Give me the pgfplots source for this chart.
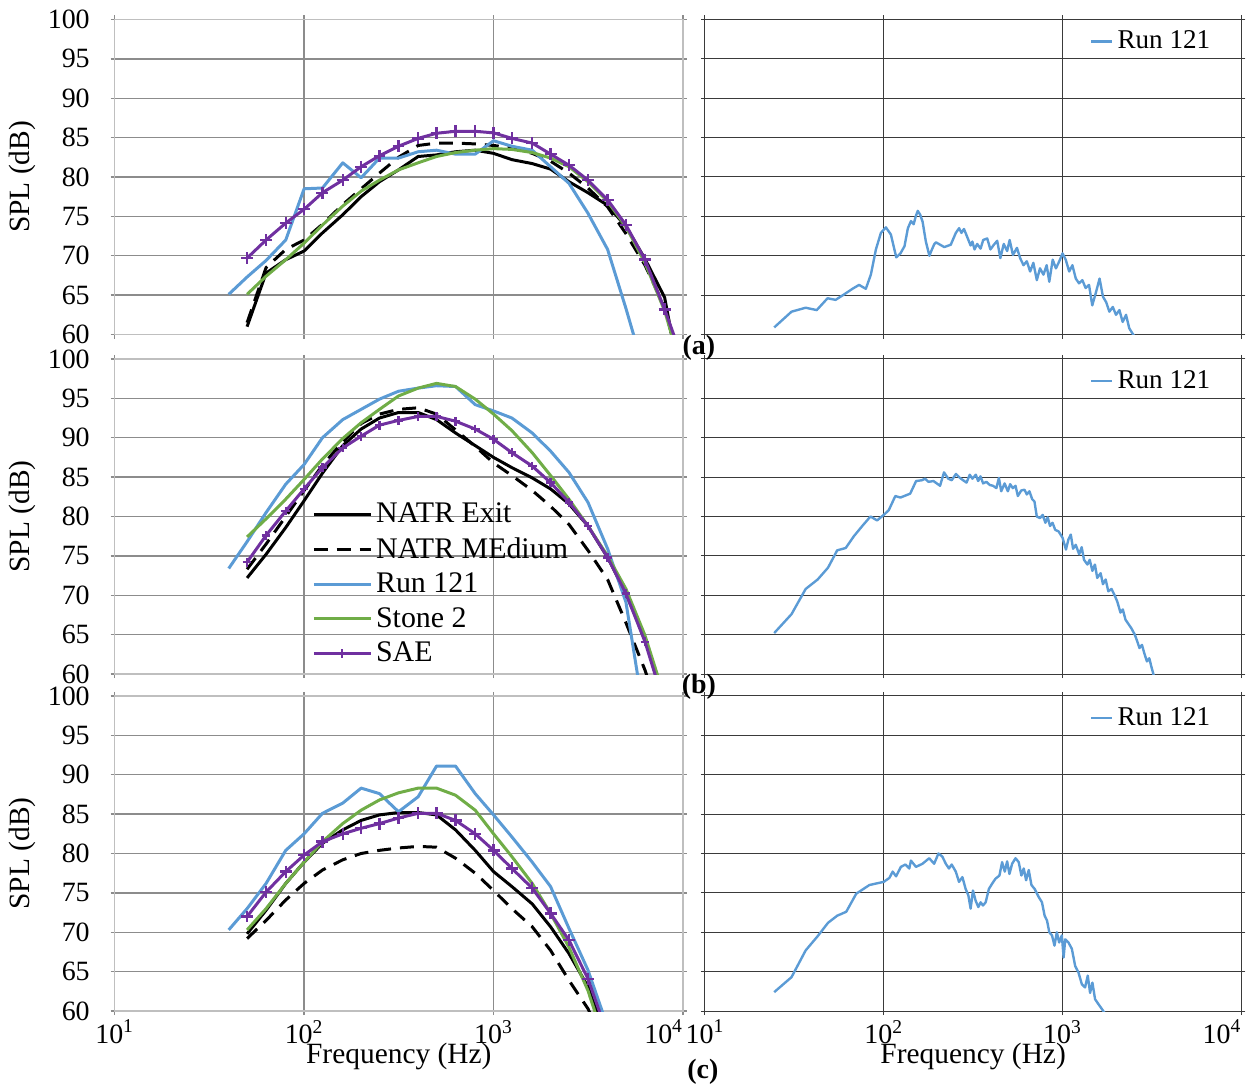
\documentclass[border=0pt]{standalone}
\usepackage{fontspec}
\setmainfont{Liberation Serif}
\usepackage{pgfplots}
\pgfplotsset{compat=1.18}

\definecolor{runblue}{HTML}{5B9BD5}
\definecolor{stonegreen}{HTML}{70AD47}
\definecolor{saepurple}{HTML}{7030A0}
\definecolor{framegray}{HTML}{BFBFBF}
\definecolor{gridgray}{HTML}{8C8C8C}
\definecolor{darkgrid}{HTML}{3A3A3A}

\newcommand{\ticksize}{\fontsize{14}{16}\selectfont}
\newcommand{\labelsize}{\fontsize{14.75}{17}\selectfont}

\tikzset{
  natrexit/.style={black, line width=1.5pt, line join=round},
  natrmed/.style={black, line width=1.5pt, line join=round, dash pattern=on 7pt off 4.5pt},
  runline/.style={runblue, line width=1.5pt, line join=round},
  stoneline/.style={stonegreen, line width=1.5pt, line join=round},
  saeline/.style={saepurple, line width=1.5pt, line join=round, mark=+, mark size=3pt, mark options={solid, line width=1.2pt}},
  nbtrace/.style={runblue, line width=1.2pt, line join=round},
}

\begin{document}
\begin{tikzpicture}
\path (0,0) rectangle (624pt,544.5pt);

% ---------------- row (a) ----------------
\begin{axis}[at={(57.5pt,376.75pt)}, anchor=south west,
  scale only axis, width=285pt, height=158pt,
  xmode=log, xmin=10, xmax=10000, ymin=60, ymax=100,
  xtick={10,100,1000,10000}, xticklabels={}, xminorticks=false,
  ytick={60,65,70,75,80,85,90,95,100}, yticklabels={60,65,70,75,80,85,90,95,100},
  grid=major, tick align=outside, major tick length=2pt,
  axis line style={draw=framegray, line width=0.8pt},
  major grid style={draw=gridgray, line width=0.7pt},
  tick style={draw=gridgray, line width=0.7pt},
  tick label style={font=\ticksize}, yticklabel style={xshift=-7pt},
  ylabel={SPL (dB)}, ylabel style={at={(axis description cs:-0.163,0.5)}, anchor=center, font=\labelsize}]
\addplot[natrexit] coordinates {(50,61.0)(63,67.8)(80,69.5)(100,70.6)(125,72.9)(160,75.2)(200,77.5)(250,79.4)(315,80.9)(400,82.6)(500,82.8)(630,83.2)(800,83.4)(1000,83.0)(1250,82.2)(1600,81.7)(2000,81.0)(2500,79.4)(3150,78.0)(4000,76.4)(5000,73.7)(6300,69.6)(8000,64.7)(10000,52.3)};
\addplot[natrmed] coordinates {(50,61.5)(63,68.5)(80,70.8)(100,72.0)(125,74.0)(160,76.5)(200,78.5)(250,80.5)(315,82.5)(400,84.0)(500,84.3)(630,84.3)(800,84.2)(1000,84.0)(1250,83.7)(1600,83.0)(2000,82.0)(2500,80.5)(3150,78.6)(4000,76.2)(5000,72.8)(6300,68.8)(8000,63.5)(10000,54.3)};
\addplot[runline] coordinates {(40,65.1)(50,67.3)(63,69.4)(80,72.0)(100,78.5)(125,78.6)(160,81.8)(200,79.9)(250,82.4)(315,82.4)(400,83.2)(500,83.4)(630,82.9)(800,82.9)(1000,84.6)(1250,83.9)(1600,83.4)(2000,81.3)(2500,79.2)(3150,75.4)(4000,70.8)(5000,63.3)(6300,55.0)};
\addplot[stoneline] coordinates {(50,65.1)(63,67.4)(80,69.5)(100,71.6)(125,73.9)(160,76.3)(200,78.2)(250,79.6)(315,80.9)(400,81.8)(500,82.6)(630,83.1)(800,83.4)(1000,83.6)(1250,83.5)(1600,83.1)(2000,82.4)(2500,81.3)(3150,79.4)(4000,76.9)(5000,73.7)(6300,69.1)(8000,63.0)(10000,55.1)};
\addplot[saeline] coordinates {(50,69.7)(63,72.0)(80,74.15)(100,75.9)(125,78.0)(160,79.6)(200,81.3)(250,82.7)(315,83.9)(400,84.9)(500,85.55)(630,85.8)(800,85.8)(1000,85.6)(1250,84.9)(1600,84.3)(2000,82.9)(2500,81.5)(3150,79.6)(4000,77.1)(5000,73.9)(6300,69.5)(8000,63.2)(10000,56.7)};
\end{axis}

\begin{axis}[at={(353.5pt,376.75pt)}, anchor=south west,
  scale only axis, width=269pt, height=158pt,
  xmode=log, xmin=10, xmax=10000, ymin=60, ymax=100,
  xtick={10,100,1000,10000}, xticklabels={}, xminorticks=false,
  ytick={60,65,70,75,80,85,90,95,100}, yticklabels={},
  grid=major, tick align=outside, major tick length=2pt,
  axis line style={draw=darkgrid, line width=0.5pt},
  major grid style={draw=darkgrid, line width=0.5pt},
  tick style={draw=darkgrid, line width=0.5pt},
  legend style={at={(axis description cs:0.7175,0.93)}, anchor=west, draw=none, fill=none, inner sep=0pt, font=\fontsize{13.6}{15}\selectfont},
  legend image code/.code={\draw[#1] (0pt,0pt) -- (10.5pt,0pt);}]
\addplot[nbtrace] coordinates {(24.4,60.9)(30.5,62.9)(36.6,63.4)(42.2,63.1)(48.5,64.6)(53.8,64.4)(60.1,65.1)(66.8,65.8)(72.8,66.3)(79.4,65.8)(84.7,67.6)(90.4,70.8)(96.4,72.9)(102.8,73.6)(109.6,72.7)(117.5,69.8)(124,70.3)(130.6,71.2)(136.5,73.5)(142,74.4)(147,74.0)(151,75.0)(155,75.7)(160,75.2)(165,74.3)(172,71.8)(180,70.0)(186,70.8)(192,71.5)(196,71.7)(218,71.1)(237,71.4)(253,72.9)(264,73.5)(272,72.9)(281,73.4)(294,72.3)(306,71.3)(313,71.8)(322,70.8)(333,71.5)(348,70.9)(360,72.0)(379,72.2)(395,70.8)(413,71.4)(431,71.9)(449,69.7)(469,71.5)(490,70.6)(506,72.0)(528,70.1)(556,71.0)(579,69.7)(605,68.8)(631,69.3)(659,68.0)(687,69.1)(718,66.9)(748,68.4)(782,67.6)(815,68.8)(843,66.7)(881,69.5)(918,68.4)(959,69.3)(1000,70.3)(1042,69.5)(1089,68.0)(1135,68.8)(1186,67.1)(1236,66.5)(1291,66.9)(1346,65.9)(1406,66.3)(1466,63.7)(1531,65.2)(1611,67.1)(1683,64.8)(1754,64.1)(1828,62.9)(1910,63.5)(1991,62.5)(2080,63.1)(2168,61.6)(2265,62.5)(2360,60.8)(2466,60.1)(2570,59.5)};
\legend{Run 121}
\end{axis}

% ---------------- row (b) ----------------
\begin{axis}[at={(57.5pt,206.5pt)}, anchor=south west,
  scale only axis, width=285pt, height=158pt,
  xmode=log, xmin=10, xmax=10000, ymin=60, ymax=100,
  xtick={10,100,1000,10000}, xticklabels={}, xminorticks=false,
  ytick={60,65,70,75,80,85,90,95,100}, yticklabels={60,65,70,75,80,85,90,95,100},
  grid=major, tick align=outside, major tick length=2pt,
  axis line style={draw=framegray, line width=0.8pt},
  major grid style={draw=gridgray, line width=0.7pt},
  tick style={draw=gridgray, line width=0.7pt},
  tick label style={font=\ticksize}, yticklabel style={xshift=-7pt},
  ylabel={SPL (dB)}, ylabel style={at={(axis description cs:-0.163,0.5)}, anchor=center, font=\labelsize},
  legend style={at={(axis description cs:0.347,0.557)}, anchor=north west, draw=none, fill=none,
    inner sep=0pt, row sep=1.9pt, font=\fontsize{15}{17}\selectfont},
  legend cell align=left,
  legend image code/.code={\draw[mark repeat=2,mark phase=2,#1] plot coordinates {(0pt,0pt) (14.25pt,0pt) (28.5pt,0pt)};}]
\addplot[natrexit] coordinates {(50,72.2)(63,75.2)(80,78.6)(100,82.0)(125,85.5)(160,89.0)(200,91.1)(250,92.5)(315,93.2)(400,93.2)(500,92.3)(630,90.6)(800,89.0)(1000,87.5)(1250,86.2)(1600,84.9)(2000,83.5)(2500,81.6)(3150,78.8)(4000,74.8)(5000,70.2)(6300,64.5)(8000,56.0)};
\addplot[natrmed] coordinates {(50,73.3)(63,76.5)(80,80.0)(100,83.3)(125,86.5)(160,89.5)(200,91.8)(250,93.0)(315,93.6)(400,93.8)(500,93.0)(630,91.0)(800,88.9)(1000,86.8)(1250,85.2)(1600,83.3)(2000,81.3)(2500,79.0)(3150,75.7)(4000,72.0)(5000,66.5)(6300,60.5)(8000,53.0)};
\addplot[runline] coordinates {(40,73.4)(50,76.8)(63,80.5)(80,84.1)(100,86.6)(125,90.0)(160,92.3)(200,93.6)(250,94.9)(315,95.9)(400,96.3)(500,96.6)(630,96.5)(800,94.2)(1000,93.4)(1250,92.5)(1600,90.6)(2000,88.3)(2500,85.6)(3150,81.8)(4000,75.9)(5000,69.1)(6300,54.0)};
\addplot[stoneline] coordinates {(50,77.4)(63,79.7)(80,82.2)(100,84.7)(125,87.3)(160,89.9)(200,91.9)(250,93.6)(315,95.3)(400,96.3)(500,96.9)(630,96.5)(800,94.9)(1000,93.0)(1250,90.9)(1600,88.1)(2000,85.2)(2500,82.2)(3150,78.8)(4000,75.0)(5000,70.8)(6300,64.9)(8000,57.0)};
\addplot[saeline, mark size=2.2pt] coordinates {(50,74.2)(63,77.6)(80,80.7)(100,83.5)(125,86.2)(160,88.7)(200,90.2)(250,91.6)(315,92.2)(400,92.7)(500,92.7)(630,92.1)(800,91.1)(1000,89.8)(1250,88.1)(1600,86.4)(2000,84.3)(2500,81.8)(3150,78.8)(4000,74.8)(5000,70.2)(6300,64.1)(8000,56.0)};
\legend{NATR Exit, NATR MEdium, Run 121, Stone 2, SAE}
\end{axis}

\begin{axis}[at={(353.5pt,206.5pt)}, anchor=south west,
  scale only axis, width=269pt, height=158pt,
  xmode=log, xmin=10, xmax=10000, ymin=60, ymax=100,
  xtick={10,100,1000,10000}, xticklabels={}, xminorticks=false,
  ytick={60,65,70,75,80,85,90,95,100}, yticklabels={},
  grid=major, tick align=outside, major tick length=2pt,
  axis line style={draw=darkgrid, line width=0.5pt},
  major grid style={draw=darkgrid, line width=0.5pt},
  tick style={draw=darkgrid, line width=0.5pt},
  legend style={at={(axis description cs:0.7175,0.93)}, anchor=west, draw=none, fill=none, inner sep=0pt, font=\fontsize{13.6}{15}\selectfont},
  legend image code/.code={\draw[#1] (0pt,0pt) -- (10.5pt,0pt);}]
\addplot[nbtrace] coordinates {(24.4,65.2)(30.5,67.6)(36.6,70.8)(42.7,72.0)(48.8,73.5)(54.9,75.7)(61.3,76.0)(68.1,77.5)(75.9,78.8)(84.3,80.0)(91.8,79.5)(100,80.2)(106.7,80.8)(116.1,82.6)(123.9,82.4)(140.6,82.9)(151.7,84.5)(163.3,84.6)(170.2,84.8)(177.8,84.4)(189.7,84.5)(206.5,83.9)(217.3,85.6)(229.6,84.8)(239.9,84.6)(253.5,85.4)(266.7,84.9)(278.0,84.6)(290.4,84.3)(302.7,85.3)(313.3,84.8)(327.3,85.3)(337.3,84.5)(347.5,85.1)(359.7,84.2)(375.0,84.4)(391.7,84.0)(408.3,83.9)(426.6,83.6)(440.6,84.9)(453.9,83.2)(474.2,84.2)(494.3,83.2)(509.3,84.1)(527.2,83.6)(545.8,83.9)(562.3,82.6)(587.5,83.3)(612.4,83.4)(631.0,82.8)(653.1,83.2)(676.1,82.2)(696.6,81.9)(717.8,80.0)(748.2,79.8)(774.5,80.2)(801.7,79.2)(826.0,79.9)(851.1,78.8)(879.0,79.2)(909.9,78.3)(950.6,78.1)(1000,77.3)(1044.7,75.8)(1079.0,77.1)(1111.7,77.7)(1145.5,75.9)(1185.8,76.4)(1238.8,75.2)(1279.4,76.1)(1318.3,74.5)(1377.2,73.9)(1419.1,74.5)(1468.9,73.1)(1517.0,73.9)(1563.2,72.2)(1633.1,72.8)(1682.6,71.4)(1741.8,72.0)(1803.0,70.5)(1879.3,70.8)(1963.4,69.9)(2023.0,69.2)(2108.6,67.8)(2172.7,68.2)(2249.1,66.9)(2344.2,66.3)(2426.6,65.8)(2535.1,65.0)(2612.2,64.2)(2691.5,63.3)(2779.7,63.7)(2877.3,62.5)(2964.8,61.6)(3054.9,62.0)(3133.3,61.0)(3228.5,59.9)(3350,59.0)};
\legend{Run 121}
\end{axis}

% ---------------- row (c) ----------------
\begin{axis}[at={(57.5pt,37.5pt)}, anchor=south west,
  scale only axis, width=285pt, height=158pt,
  xmode=log, xmin=10, xmax=10000, ymin=60, ymax=100,
  xtick={10,100,1000,10000}, xminorticks=false,
  xticklabels={10\textsuperscript{1},10\textsuperscript{2},10\textsuperscript{3},\llap{10\textsuperscript{4}}},
  ytick={60,65,70,75,80,85,90,95,100}, yticklabels={60,65,70,75,80,85,90,95,100},
  grid=major, tick align=outside, major tick length=2pt,
  axis line style={draw=framegray, line width=0.8pt},
  major grid style={draw=gridgray, line width=0.7pt},
  tick style={draw=gridgray, line width=0.7pt},
  tick label style={font=\ticksize}, yticklabel style={xshift=-7pt}, xticklabel style={yshift=1pt},
  ylabel={SPL (dB)}, ylabel style={at={(axis description cs:-0.163,0.5)}, anchor=center, font=\labelsize},
  xlabel={Frequency (Hz)}, xlabel style={at={(axis description cs:0.5,0)}, yshift=-23pt, anchor=center, font=\labelsize}]
\addplot[natrexit] coordinates {(50,69.8)(63,72.8)(80,76.2)(100,78.9)(125,81.3)(160,83.0)(200,84.2)(250,84.9)(315,85.2)(400,85.2)(500,84.9)(630,83.0)(800,80.4)(1000,77.7)(1250,75.8)(1600,73.6)(2000,70.7)(2500,67.3)(3150,63.1)(4000,56.0)};
\addplot[natrmed] coordinates {(50,69.2)(63,71.5)(80,74.1)(100,76.2)(125,77.9)(160,79.2)(200,80.0)(250,80.4)(315,80.7)(400,80.9)(500,80.8)(630,79.4)(800,77.5)(1000,75.3)(1250,73.0)(1600,70.7)(2000,67.7)(2500,63.9)(3150,60.3)(4000,55.0)};
\addplot[runline] coordinates {(40,70.3)(50,73.0)(63,76.2)(80,80.4)(100,82.5)(125,85.1)(160,86.4)(200,88.3)(250,87.6)(315,85.3)(400,87.2)(500,91.1)(630,91.1)(800,87.6)(1000,84.9)(1250,82.1)(1600,78.9)(2000,75.8)(2500,70.5)(3150,65.2)(4000,58.0)};
\addplot[stoneline] coordinates {(50,70.3)(63,73.0)(80,76.2)(100,78.9)(125,81.5)(160,83.8)(200,85.5)(250,86.8)(315,87.7)(400,88.3)(500,88.3)(630,87.4)(800,85.5)(1000,82.5)(1250,79.6)(1600,76.2)(2000,72.4)(2500,68.1)(3150,62.6)(4000,55.0)};
\addplot[saeline] coordinates {(50,72.0)(63,75.1)(80,77.7)(100,79.8)(125,81.5)(160,82.5)(200,83.2)(250,83.8)(315,84.5)(400,85.1)(500,85.1)(630,84.2)(800,82.5)(1000,80.4)(1250,78.1)(1600,75.6)(2000,72.4)(2500,69.0)(3150,64.1)(4000,57.0)};
\end{axis}

\begin{axis}[at={(353.5pt,37.5pt)}, anchor=south west,
  scale only axis, width=269pt, height=158pt,
  xmode=log, xmin=10, xmax=10000, ymin=60, ymax=100,
  xtick={10,100,1000,10000}, xminorticks=false,
  xticklabels={10\textsuperscript{1},10\textsuperscript{2},10\textsuperscript{3},\llap{10\textsuperscript{4}}},
  ytick={60,65,70,75,80,85,90,95,100}, yticklabels={},
  grid=major, tick align=outside, major tick length=2pt,
  axis line style={draw=darkgrid, line width=0.5pt},
  major grid style={draw=darkgrid, line width=0.5pt},
  tick style={draw=darkgrid, line width=0.5pt},
  tick label style={font=\ticksize}, xticklabel style={yshift=1pt},
  xlabel={Frequency (Hz)}, xlabel style={at={(axis description cs:0.5,0)}, yshift=-23pt, anchor=center, font=\labelsize},
  legend style={at={(axis description cs:0.7175,0.93)}, anchor=west, draw=none, fill=none, inner sep=0pt, font=\fontsize{13.6}{15}\selectfont},
  legend image code/.code={\draw[#1] (0pt,0pt) -- (10.5pt,0pt);}]
\addplot[nbtrace] coordinates {(24.4,62.4)(30.5,64.3)(36.6,67.7)(42.7,69.5)(48.8,71.2)(54.9,72.1)(61.7,72.6)(70.2,74.9)(83.2,76.0)(100,76.4)(107.6,76.9)(112.2,77.7)(117.2,77.1)(124.7,78.3)(132.1,78.6)(139.0,78.1)(141.9,79.1)(151.4,78.3)(164.8,78.7)(179.5,79.4)(191.4,78.7)(202.3,80.0)(212.8,79.6)(222.3,78.7)(231.7,78.1)(239.9,78.6)(252.9,77.7)(263.6,76.4)(275.4,77.0)(287.1,75.5)(297.2,74.7)(306.2,73.0)(315.5,75.3)(326.6,74.0)(338.1,73.2)(348.3,73.8)(358.9,73.4)(371.5,73.8)(387.3,75.5)(404.6,76.2)(421.7,76.8)(443.6,77.2)(459.2,78.9)(475.3,77.7)(489.8,79.0)(504.7,77.4)(522.4,78.7)(545.8,79.4)(568.9,78.9)(588.8,77.2)(606.7,78.1)(625.2,76.6)(647.1,77.9)(669.9,76.0)(698.2,75.5)(734.5,74.5)(767.4,73.8)(794.3,72.1)(818.4,71.5)(843.3,70.0)(873.0,69.6)(901.6,68.3)(929.0,70.0)(957.2,68.7)(990.8,69.6)(1013.9,66.8)(1035.1,69.1)(1079.0,68.7)(1127.2,67.9)(1177.2,65.7)(1227.4,64.9)(1282.3,63.4)(1336.6,63.0)(1383.6,64.5)(1425.6,62.3)(1469,63.6)(1520.5,61.5)(1584.9,60.9)(1690.4,60.0)(1750,59.5)};
\legend{Run 121}
\end{axis}

% panel captions
\node[font=\bfseries\fontsize{14}{16}\selectfont] at (350.5pt,370pt) {(a)};
\node[font=\bfseries\fontsize{14}{16}\selectfont] at (350.5pt,200pt) {(b)};
\node[font=\bfseries\fontsize{14}{16}\selectfont] at (352.5pt,7pt) {(c)};
\end{tikzpicture}
\end{document}
